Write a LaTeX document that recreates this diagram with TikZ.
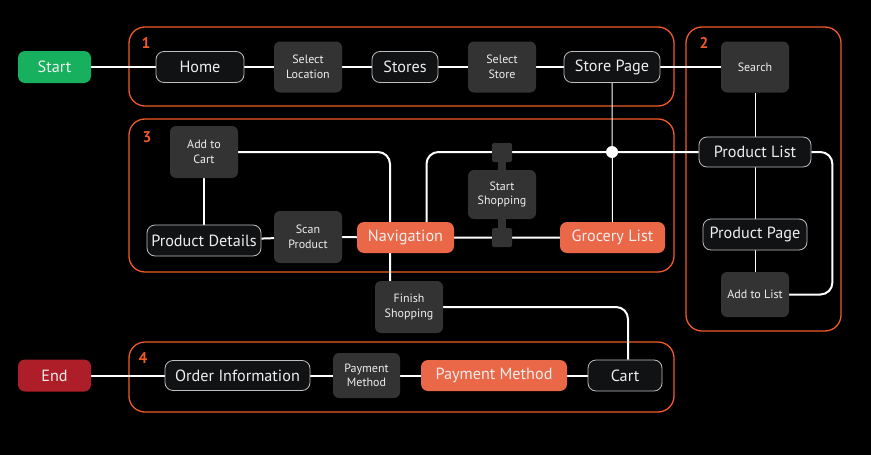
\documentclass[tikz,border=0pt]{standalone}
\usepackage{fontspec}
\setmainfont{PT Sans}
\usetikzlibrary{backgrounds}
\definecolor{orl}{RGB}{240,90,40}
\definecolor{orf}{RGB}{234,103,72}
\definecolor{dk}{RGB}{51,51,51}
\definecolor{bk}{RGB}{17,18,20}
\definecolor{gr}{RGB}{190,190,190}
\definecolor{grn}{RGB}{22,176,94}
\definecolor{rd}{RGB}{173,30,40}
\definecolor{txt}{RGB}{238,238,238}
\begin{document}
\begin{tikzpicture}[x=1pt,y=-1pt,
  base/.style={inner sep=0pt, text=txt, font=\fontsize{16.2}{19}\selectfont},
  darkbox/.style={base, fill=dk, rounded corners=6pt, minimum width=68pt, minimum height=51pt, align=center, font=\fontsize{12}{14.5}\selectfont},
  outl/.style={base, fill=bk, draw=gr, line width=0.8pt, rounded corners=8pt, minimum height=31pt},
  hot/.style={base, fill=orf, rounded corners=7pt, minimum height=31pt},
  term/.style={base, rounded corners=7pt, minimum width=73pt, minimum height=32pt},
  sqc/.style={fill=dk, rounded corners=2pt, minimum width=20pt, minimum height=19pt, inner sep=0pt},
  grp/.style={draw=orl, line width=1.3pt, rounded corners=16pt},
  num/.style={text=orl, inner sep=0pt, font=\bfseries\fontsize{15.5}{15.5}\selectfont},
  wire/.style={draw=white, line width=2pt},
  thinwire/.style={draw=white, line width=1pt}
]
\useasboundingbox (0,0) rectangle (871,455);
% nodes
\node[term, fill=grn] (start) at (54.5,67) {Start};
\node[outl, minimum width=88pt] (home) at (200,67) {Home};
\node[darkbox] (selloc) at (308,67) {Select\\Location};
\node[outl, minimum width=66pt] (stores) at (405,67) {Stores};
\node[darkbox] (selstore) at (502,67) {Select\\Store};
\node[outl, minimum width=96pt] (spage) at (612,67) {Store Page};
\node[darkbox] (search) at (755,67) {Search};
\node[outl, minimum width=112pt, minimum height=30pt] (plist) at (755,152) {Product List};
\node[outl, minimum width=104pt] (ppage) at (755,234.5) {Product Page};
\node[darkbox, minimum height=45pt] (addlist) at (755,294.5) {Add to List};
\node[darkbox, minimum height=52pt] (addcart) at (204,152) {Add to\\Cart};
\node[outl, minimum width=114pt] (pdet) at (204,240.5) {Product Details};
\node[darkbox, minimum height=52pt] (scan) at (308,237) {Scan\\Product};
\node[hot, minimum width=97pt] (nav) at (405.5,237.5) {Navigation};
\node[darkbox, minimum height=49pt] (sshop) at (502,194.5) {Start\\Shopping};
\node[sqc] (sqT) at (502,152.5) {};
\node[sqc] (sqB) at (502,237.5) {};
\node[hot, minimum width=105pt] (groc) at (612.5,237.5) {Grocery List};
\node[circle, fill=white, minimum size=12pt, inner sep=0pt] (dot) at (612,152) {};
\node[darkbox, minimum height=52pt] (finish) at (409,307) {Finish\\Shopping};
\node[term, fill=rd] (end) at (54.5,375.5) {End};
\node[outl, minimum width=145pt, minimum height=30pt] (oinfo) at (237.5,375.5) {Order Information};
\node[darkbox, minimum width=67pt, minimum height=45pt] (pmsmall) at (366.5,375.5) {Payment\\Method};
\node[hot, minimum width=146pt] (pm) at (494,375.5) {Payment Method};
\node[outl, minimum width=74pt] (cart) at (625,375.5) {Cart};
\node[num] (n1) at (146,43) {1};
\node[num] (n2) at (704,43) {2};
\node[num] (n3) at (147,137) {3};
\node[num] (n4) at (143,358) {4};
\begin{pgfonlayer}{background}
\fill[black] (0,0) rectangle (871,455);
\draw[grp] (129,27) rectangle (674,106);
\draw[grp] (686,27) rectangle (841,331);
\draw[grp] (129,119) rectangle (674,272);
\draw[grp] (129,342) rectangle (674,412);
\draw[wire] (start) -- (home) -- (selloc) -- (stores) -- (selstore) -- (spage) -- (search);
\draw[thinwire] (search) -- (plist) -- (ppage) -- (addlist);
\draw[thinwire] (spage) -- (groc);
\draw[wire, rounded corners=12pt] (addcart.east) -| ([xshift=-19pt]finish.north);
\draw[wire, rounded corners=12pt] ([xshift=21pt]nav.north) |- (plist.west);
\draw[wire] (addcart) -- (pdet);
\draw[wire] (pdet) -- (scan) -- (nav) -- (groc);
\draw[wire, rounded corners=12pt] (plist.east) -- ++(21,0) |- (addlist.east);
\draw[wire, rounded corners=12pt] (finish.east) -| ([xshift=3pt]cart.north);
\draw[wire] (end) -- (oinfo) -- (pmsmall) -- (pm) -- (cart);
\draw[line width=8pt, draw=dk] (sqT) -- (sshop);
\draw[line width=8pt, draw=dk] (sqB) -- (sshop);
\end{pgfonlayer}
\end{tikzpicture}
\end{document}
